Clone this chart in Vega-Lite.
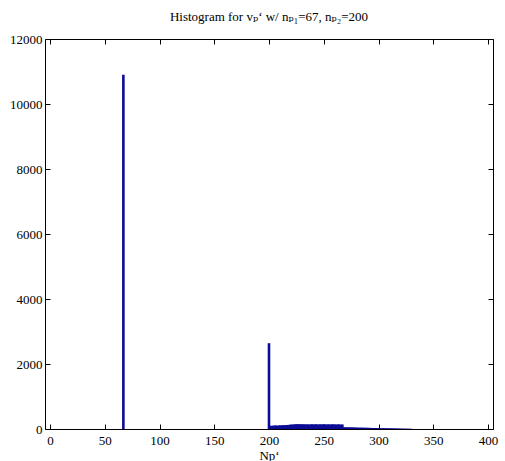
{
  "$schema": "https://vega.github.io/schema/vega-lite/v6.json",
  "width": 448,
  "height": 390,
  "autosize": {"type": "none"},
  "padding": {"left": 45, "top": 39, "right": 12, "bottom": 32},
  "background": "white",
  "title": {"text": "Histogram for vₚ‘ w/ nₚ₁=67, nₚ₂=200", "font": "'Liberation Serif', 'DejaVu Serif', serif", "fontSize": 13, "fontWeight": "normal", "color": "black", "offset": 9},
  "config": {
    "view": {"stroke": "black", "strokeWidth": 1},
    "axis": {"labelFont": "'Liberation Serif', 'DejaVu Serif', serif", "titleFont": "'Liberation Serif', 'DejaVu Serif', serif", "labelFontSize": 13, "titleFontSize": 13, "titleFontWeight": "normal", "labelColor": "black", "titleColor": "black", "domain": false, "grid": false, "tickColor": "black", "tickSize": -5, "tickWidth": 1}
  },
  "data": {"values": [
    {"Np": 67, "count": 10900},
    {"Np": 200, "count": 2640},
    {"Np": 201, "count": 95},{"Np": 202, "count": 100},{"Np": 203, "count": 90},{"Np": 204, "count": 105},{"Np": 205, "count": 98},
    {"Np": 206, "count": 110},{"Np": 207, "count": 102},{"Np": 208, "count": 96},{"Np": 209, "count": 108},{"Np": 210, "count": 112},
    {"Np": 211, "count": 100},{"Np": 212, "count": 115},{"Np": 213, "count": 105},{"Np": 214, "count": 118},{"Np": 215, "count": 110},
    {"Np": 216, "count": 120},{"Np": 217, "count": 125},{"Np": 218, "count": 118},{"Np": 219, "count": 130},{"Np": 220, "count": 135},
    {"Np": 221, "count": 128},{"Np": 222, "count": 140},{"Np": 223, "count": 132},{"Np": 224, "count": 145},{"Np": 225, "count": 138},
    {"Np": 226, "count": 150},{"Np": 227, "count": 142},{"Np": 228, "count": 135},{"Np": 229, "count": 148},{"Np": 230, "count": 140},
    {"Np": 231, "count": 138},{"Np": 232, "count": 145},{"Np": 233, "count": 132},{"Np": 234, "count": 140},{"Np": 235, "count": 136},
    {"Np": 236, "count": 142},{"Np": 237, "count": 130},{"Np": 238, "count": 138},{"Np": 239, "count": 144},{"Np": 240, "count": 135},
    {"Np": 241, "count": 140},{"Np": 242, "count": 132},{"Np": 243, "count": 146},{"Np": 244, "count": 138},{"Np": 245, "count": 130},
    {"Np": 246, "count": 142},{"Np": 247, "count": 136},{"Np": 248, "count": 140},{"Np": 249, "count": 134},{"Np": 250, "count": 145},
    {"Np": 251, "count": 138},{"Np": 252, "count": 132},{"Np": 253, "count": 140},{"Np": 254, "count": 135},{"Np": 255, "count": 142},
    {"Np": 256, "count": 130},{"Np": 257, "count": 138},{"Np": 258, "count": 145},{"Np": 259, "count": 132},{"Np": 260, "count": 140},
    {"Np": 261, "count": 136},{"Np": 262, "count": 130},{"Np": 263, "count": 142},{"Np": 264, "count": 138},{"Np": 265, "count": 135},
    {"Np": 266, "count": 128},{"Np": 267, "count": 140},
    {"Np": 268, "count": 50},{"Np": 269, "count": 48},{"Np": 270, "count": 45},{"Np": 271, "count": 52},{"Np": 272, "count": 46},
    {"Np": 273, "count": 44},{"Np": 274, "count": 50},{"Np": 275, "count": 42},{"Np": 276, "count": 48},{"Np": 277, "count": 45},
    {"Np": 278, "count": 40},{"Np": 279, "count": 44},{"Np": 280, "count": 42},{"Np": 281, "count": 38},{"Np": 282, "count": 40},
    {"Np": 283, "count": 36},{"Np": 284, "count": 42},{"Np": 285, "count": 38},{"Np": 286, "count": 35},{"Np": 287, "count": 40},
    {"Np": 288, "count": 36},{"Np": 289, "count": 34},{"Np": 290, "count": 38},{"Np": 291, "count": 32},{"Np": 292, "count": 35},
    {"Np": 293, "count": 30},{"Np": 294, "count": 33},{"Np": 295, "count": 30},{"Np": 296, "count": 28},{"Np": 297, "count": 32},
    {"Np": 298, "count": 30},{"Np": 299, "count": 28},{"Np": 300, "count": 26},
    {"Np": 301, "count": 22},{"Np": 302, "count": 20},{"Np": 303, "count": 24},{"Np": 304, "count": 18},{"Np": 305, "count": 20},
    {"Np": 306, "count": 22},{"Np": 307, "count": 18},{"Np": 308, "count": 16},{"Np": 309, "count": 20},{"Np": 310, "count": 18},
    {"Np": 311, "count": 15},{"Np": 312, "count": 17},{"Np": 313, "count": 14},{"Np": 314, "count": 16},{"Np": 315, "count": 12},
    {"Np": 316, "count": 14},{"Np": 317, "count": 12},{"Np": 318, "count": 10},{"Np": 319, "count": 12},{"Np": 320, "count": 9},
    {"Np": 321, "count": 10},{"Np": 322, "count": 8},{"Np": 323, "count": 9},{"Np": 324, "count": 7},{"Np": 325, "count": 8},
    {"Np": 326, "count": 6},{"Np": 327, "count": 7},{"Np": 328, "count": 5},{"Np": 329, "count": 6},{"Np": 330, "count": 4}
  ]},
  "resolve": {"axis": {"x": "independent", "y": "independent"}},
  "layer": [
    {
      "mark": {"type": "bar", "color": "#0c0c96", "size": 2.6, "orient": "vertical"},
      "encoding": {
        "x": {"field": "Np", "type": "quantitative", "scale": {"domain": [0, 400], "nice": false, "zero": false},
              "axis": {"title": "Np‘", "values": [0,50,100,150,200,250,300,350,400], "labelPadding": 10, "titlePadding": 2, "labelFlush": false}},
        "y": {"field": "count", "type": "quantitative", "scale": {"domain": [0, 12000], "nice": false},
              "axis": {"title": null, "values": [0,2000,4000,6000,8000,10000,12000], "labelPadding": 8, "format": "d", "labelFlush": false}}
      }
    },
    {
      "mark": {"type": "bar", "opacity": 0},
      "encoding": {
        "x": {"field": "Np", "type": "quantitative", "axis": {"orient": "top", "title": null, "labels": false, "values": [0,50,100,150,200,250,300,350,400]}},
        "y": {"field": "count", "type": "quantitative", "axis": {"orient": "right", "title": null, "labels": false, "values": [0,2000,4000,6000,8000,10000,12000]}}
      }
    }
  ]
}
